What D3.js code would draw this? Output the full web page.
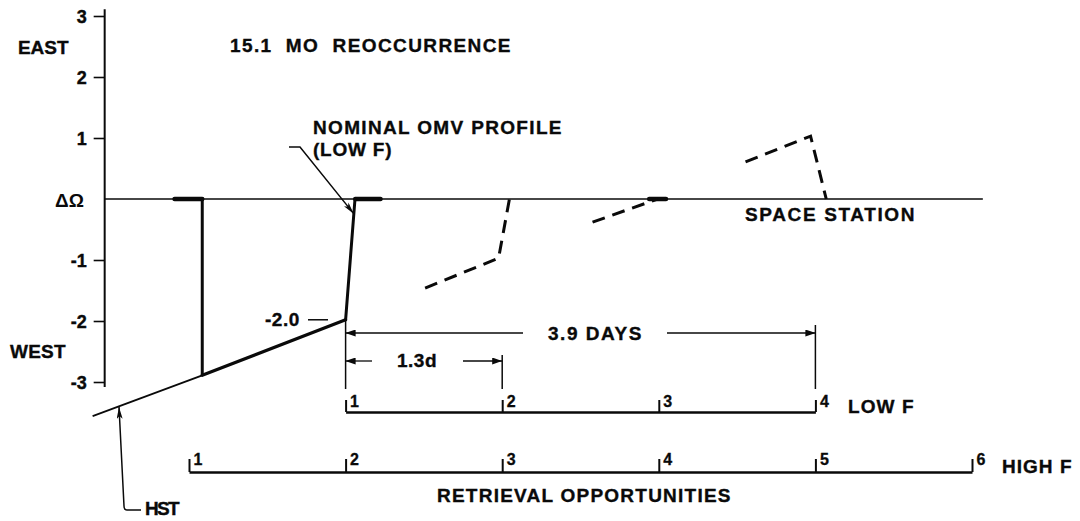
<!DOCTYPE html>
<html><head><meta charset="utf-8">
<script src="https://cdn.jsdelivr.net/npm/d3@7"></script>
<style>
html,body{margin:0;padding:0;background:#fff;}
svg{display:block;font-family:"Liberation Sans",Arial,Helvetica,sans-serif;background:#fff;}
text{font-weight:bold;fill:#0a0a0a;}
</style></head><body>
<svg id="chart" width="1080" height="521"></svg>
<script>
// ---------------- data ----------------
const yTickValues = [3, 2, 1, -1, -2, -3];
const yTickLabels = ["3", "2", "1", "-1", "-2", "-3"];
const lowFDays = [0, 1.3, 2.6, 3.9];
const lowFLabels = ["1", "2", "3", "4"];
const highFDays = [-1.3, 0, 1.3, 2.6, 3.9, 5.2];
const highFLabels = ["1", "2", "3", "4", "5", "6"];
const stationLine = [[-2.0, 0], [5.29, 0]];
const hstThin = [[-2.1, -3.56], [-1.19, -2.89]];
const hstThick = [[-1.19, -2.89], [0, -1.98]];
const hstDrop = [[-1.19, 0], [-1.19, -2.89]];
const omvProfile = [[0, -1.98], [0.078, 0]];
const dashedProfiles = [
  [[0.66, -1.46], [1.27, -0.97], [1.36, 0]],
  [[2.05, -0.38], [2.59, 0]],
  [[3.32, 0.61], [3.86, 1.03], [3.99, 0]]
];
const phasingMarks = [[-1.42, -1.19], [0.08, 0.29], [2.52, 2.66]];

// ---------------- scales ----------------
const svg = d3.select("#chart");
const x = d3.scaleLinear().domain([-1.3, 5.2]).range([189, 972]);
const y = d3.scaleLinear().domain([-3, 3]).range([382, 16]);
const line = d3.line().x(d => x(d[0])).y(d => y(d[1]));
const ink = "#0a0a0a";
const FONT = "Liberation Sans, Arial, sans-serif";

const defs = svg.append("defs");
defs.append("marker").attr("id", "arr").attr("viewBox", "0 0 10 7")
  .attr("refX", 10).attr("refY", 3.5).attr("markerWidth", 10).attr("markerHeight", 7)
  .attr("markerUnits", "userSpaceOnUse").attr("orient", "auto-start-reverse")
  .append("path").attr("d", "M0,0 L10,3.5 L0,7 z").attr("fill", ink);
defs.append("marker").attr("id", "arrN").attr("viewBox", "0 0 12 6")
  .attr("refX", 12).attr("refY", 3).attr("markerWidth", 12).attr("markerHeight", 6)
  .attr("markerUnits", "userSpaceOnUse").attr("orient", "auto-start-reverse")
  .append("path").attr("d", "M0,0 L12,3 L0,6 L3,3 z").attr("fill", ink);

// ---------------- y axis ----------------
const yAxisG = svg.append("g").attr("transform", `translate(${x(-2)},0)`)
  .call(d3.axisLeft(y).tickValues(yTickValues)
    .tickFormat((d, i) => yTickLabels[i]).tickSize(11).tickPadding(7).tickSizeOuter(0));
yAxisG.select(".domain").remove();
yAxisG.selectAll(".tick line").attr("stroke", ink).attr("stroke-width", 1.6);
yAxisG.selectAll(".tick text").attr("font-size", 18).attr("font-weight", "bold")
  .attr("font-family", FONT).attr("fill", ink).attr("stroke", ink).attr("stroke-width", 0.4)
  .attr("dy", "0.36em");
svg.append("line").attr("x1", x(-2)).attr("x2", x(-2))
  .attr("y1", y(3.11)).attr("y2", y(-3.08)).attr("stroke", ink).attr("stroke-width", 2);

// zero (space station) line
svg.append("path").attr("d", line(stationLine)).attr("fill", "none")
  .attr("stroke", ink).attr("stroke-width", 1.6);

// phasing marks (thick bits on zero line)
svg.selectAll(".pm").data(phasingMarks).enter().append("line")
  .attr("x1", d => x(d[0])).attr("x2", d => x(d[1]))
  .attr("y1", y(0)).attr("y2", y(0))
  .attr("stroke", ink).attr("stroke-width", 4.5).attr("stroke-linecap", "round");

// HST line
svg.append("path").attr("d", line(hstThin)).attr("fill", "none")
  .attr("stroke", ink).attr("stroke-width", 1.8);
svg.append("path").attr("d", line(hstThick)).attr("fill", "none")
  .attr("stroke", ink).attr("stroke-width", 3.2).attr("stroke-linecap", "round");
svg.append("path").attr("d", line(hstDrop)).attr("fill", "none")
  .attr("stroke", ink).attr("stroke-width", 3);
svg.append("path").attr("d", line(omvProfile)).attr("fill", "none")
  .attr("stroke", ink).attr("stroke-width", 3).attr("stroke-linecap", "round");

// dashed profiles
svg.selectAll(".dp").data(dashedProfiles).enter().append("path")
  .attr("d", d => line(d)).attr("fill", "none").attr("stroke", ink)
  .attr("stroke-width", 3).attr("stroke-dasharray", "13,8").attr("stroke-linejoin", "miter");

// ---------------- low F axis ----------------
const lowScale = d3.scaleLinear().domain([0, 3.9]).range([x(0), x(3.9)]);
const lowG = svg.append("g").attr("transform", "translate(0,412)")
  .call(d3.axisTop(lowScale).tickValues(lowFDays).tickFormat((d, i) => lowFLabels[i])
    .tickSize(12).tickSizeOuter(0).tickPadding(0));
lowG.select(".domain").attr("stroke", ink).attr("stroke-width", 2.6);
lowG.selectAll(".tick line").attr("stroke", ink).attr("stroke-width", 2);
lowG.selectAll(".tick text").attr("font-size", 16).attr("font-weight", "bold")
  .attr("font-family", FONT).attr("fill", ink).attr("stroke", ink).attr("stroke-width", 0.3)
  .attr("text-anchor", "start").attr("x", 4).attr("y", -5).attr("dy", 0);

// ---------------- high F axis ----------------
const highG = svg.append("g").attr("transform", "translate(0,472)")
  .call(d3.axisTop(x).tickValues(highFDays).tickFormat((d, i) => highFLabels[i])
    .tickSize(13).tickSizeOuter(0).tickPadding(0));
highG.select(".domain").attr("stroke", ink).attr("stroke-width", 2.6);
highG.selectAll(".tick line").attr("stroke", ink).attr("stroke-width", 2);
highG.selectAll(".tick text").attr("font-size", 16).attr("font-weight", "bold")
  .attr("font-family", FONT).attr("fill", ink).attr("stroke", ink).attr("stroke-width", 0.3)
  .attr("text-anchor", "start").attr("x", 4).attr("y", -7).attr("dy", 0);

// ---------------- dimension lines ----------------
function seg(x1, y1, x2, y2, w, m1, m2) {
  const l = svg.append("line").attr("x1", x1).attr("y1", y1).attr("x2", x2).attr("y2", y2)
    .attr("stroke", ink).attr("stroke-width", w);
  if (m1) l.attr("marker-start", `url(#${m1})`);
  if (m2) l.attr("marker-end", `url(#${m2})`);
  return l;
}
// extension lines
seg(x(0), y(-1.98), x(0), 389, 1.5);
seg(x(1.3), 355, x(1.3), 389, 1.5);
seg(x(3.9), 325, x(3.9), 389, 1.5);
// 3.9 days
seg(x(0), 333, 523, 333, 1.3, "arr", null);
seg(667, 333, x(3.9), 333, 1.3, null, "arr");
// 1.3 d
seg(x(0), 361, 372, 361, 1.3, "arr", null);
seg(463, 361, x(1.3), 361, 1.3, null, "arr");
// -2.0 leader
seg(308, y(-1.98), 328, y(-1.98), 1.5);

// nominal OMV leader
svg.append("path").attr("d", `M289,147 L300,147 L${x(0.067)},${y(-0.24)}`)
  .attr("fill", "none").attr("stroke", ink).attr("stroke-width", 1.5)
  .attr("marker-end", "url(#arrN)");
// HST leader
svg.append("path").attr("d", `M141,510 L127,510 Q124,510 124,506 L${x(-1.881)},${y(-3.41)}`)
  .attr("fill", "none").attr("stroke", ink).attr("stroke-width", 1.5)
  .attr("marker-end", "url(#arrN)");

// ---------------- texts ----------------
function label(t, xx, yy, opts = {}) {
  const el = svg.append("text").attr("x", xx).attr("y", yy)
    .attr("font-size", opts.size || 19)
    .attr("font-weight", opts.weight || "bold")
    .attr("letter-spacing", opts.ls !== undefined ? opts.ls : 1.5)
    .attr("text-anchor", opts.anchor || "start")
    .attr("stroke", ink).attr("stroke-width", opts.weight === "normal" ? 0 : 0.35)
    .style("white-space", "pre")
    .text(t);
  if (opts.len) el.attr("textLength", opts.len).attr("lengthAdjust", "spacing");
  return el;
}
label("EAST", 18, 54, {len: 52});
label("WEST", 10, 358, {len: 57});
label("ΔΩ", 55, 207, {weight: "normal", size: 19, ls: 0});
label("15.1  MO  REOCCURRENCE", 230, 52, {len: 282});
label("NOMINAL OMV PROFILE", 313, 134, {len: 250});
label("(LOW F)", 313, 156, {len: 80});
label("-2.0", 265, 326, {ls: 0.5});
label("3.9 DAYS", 548, 340, {len: 95});
label("1.3d", 397, 367, {ls: 0.5});
label("SPACE STATION", 745, 221, {len: 171});
label("LOW F", 848, 413, {len: 67});
label("HIGH F", 1002, 473, {len: 71});
label("RETRIEVAL OPPORTUNITIES", 437, 502, {len: 295});
label("HST", 145, 515, {len: 36});
</script>
</body></html>
